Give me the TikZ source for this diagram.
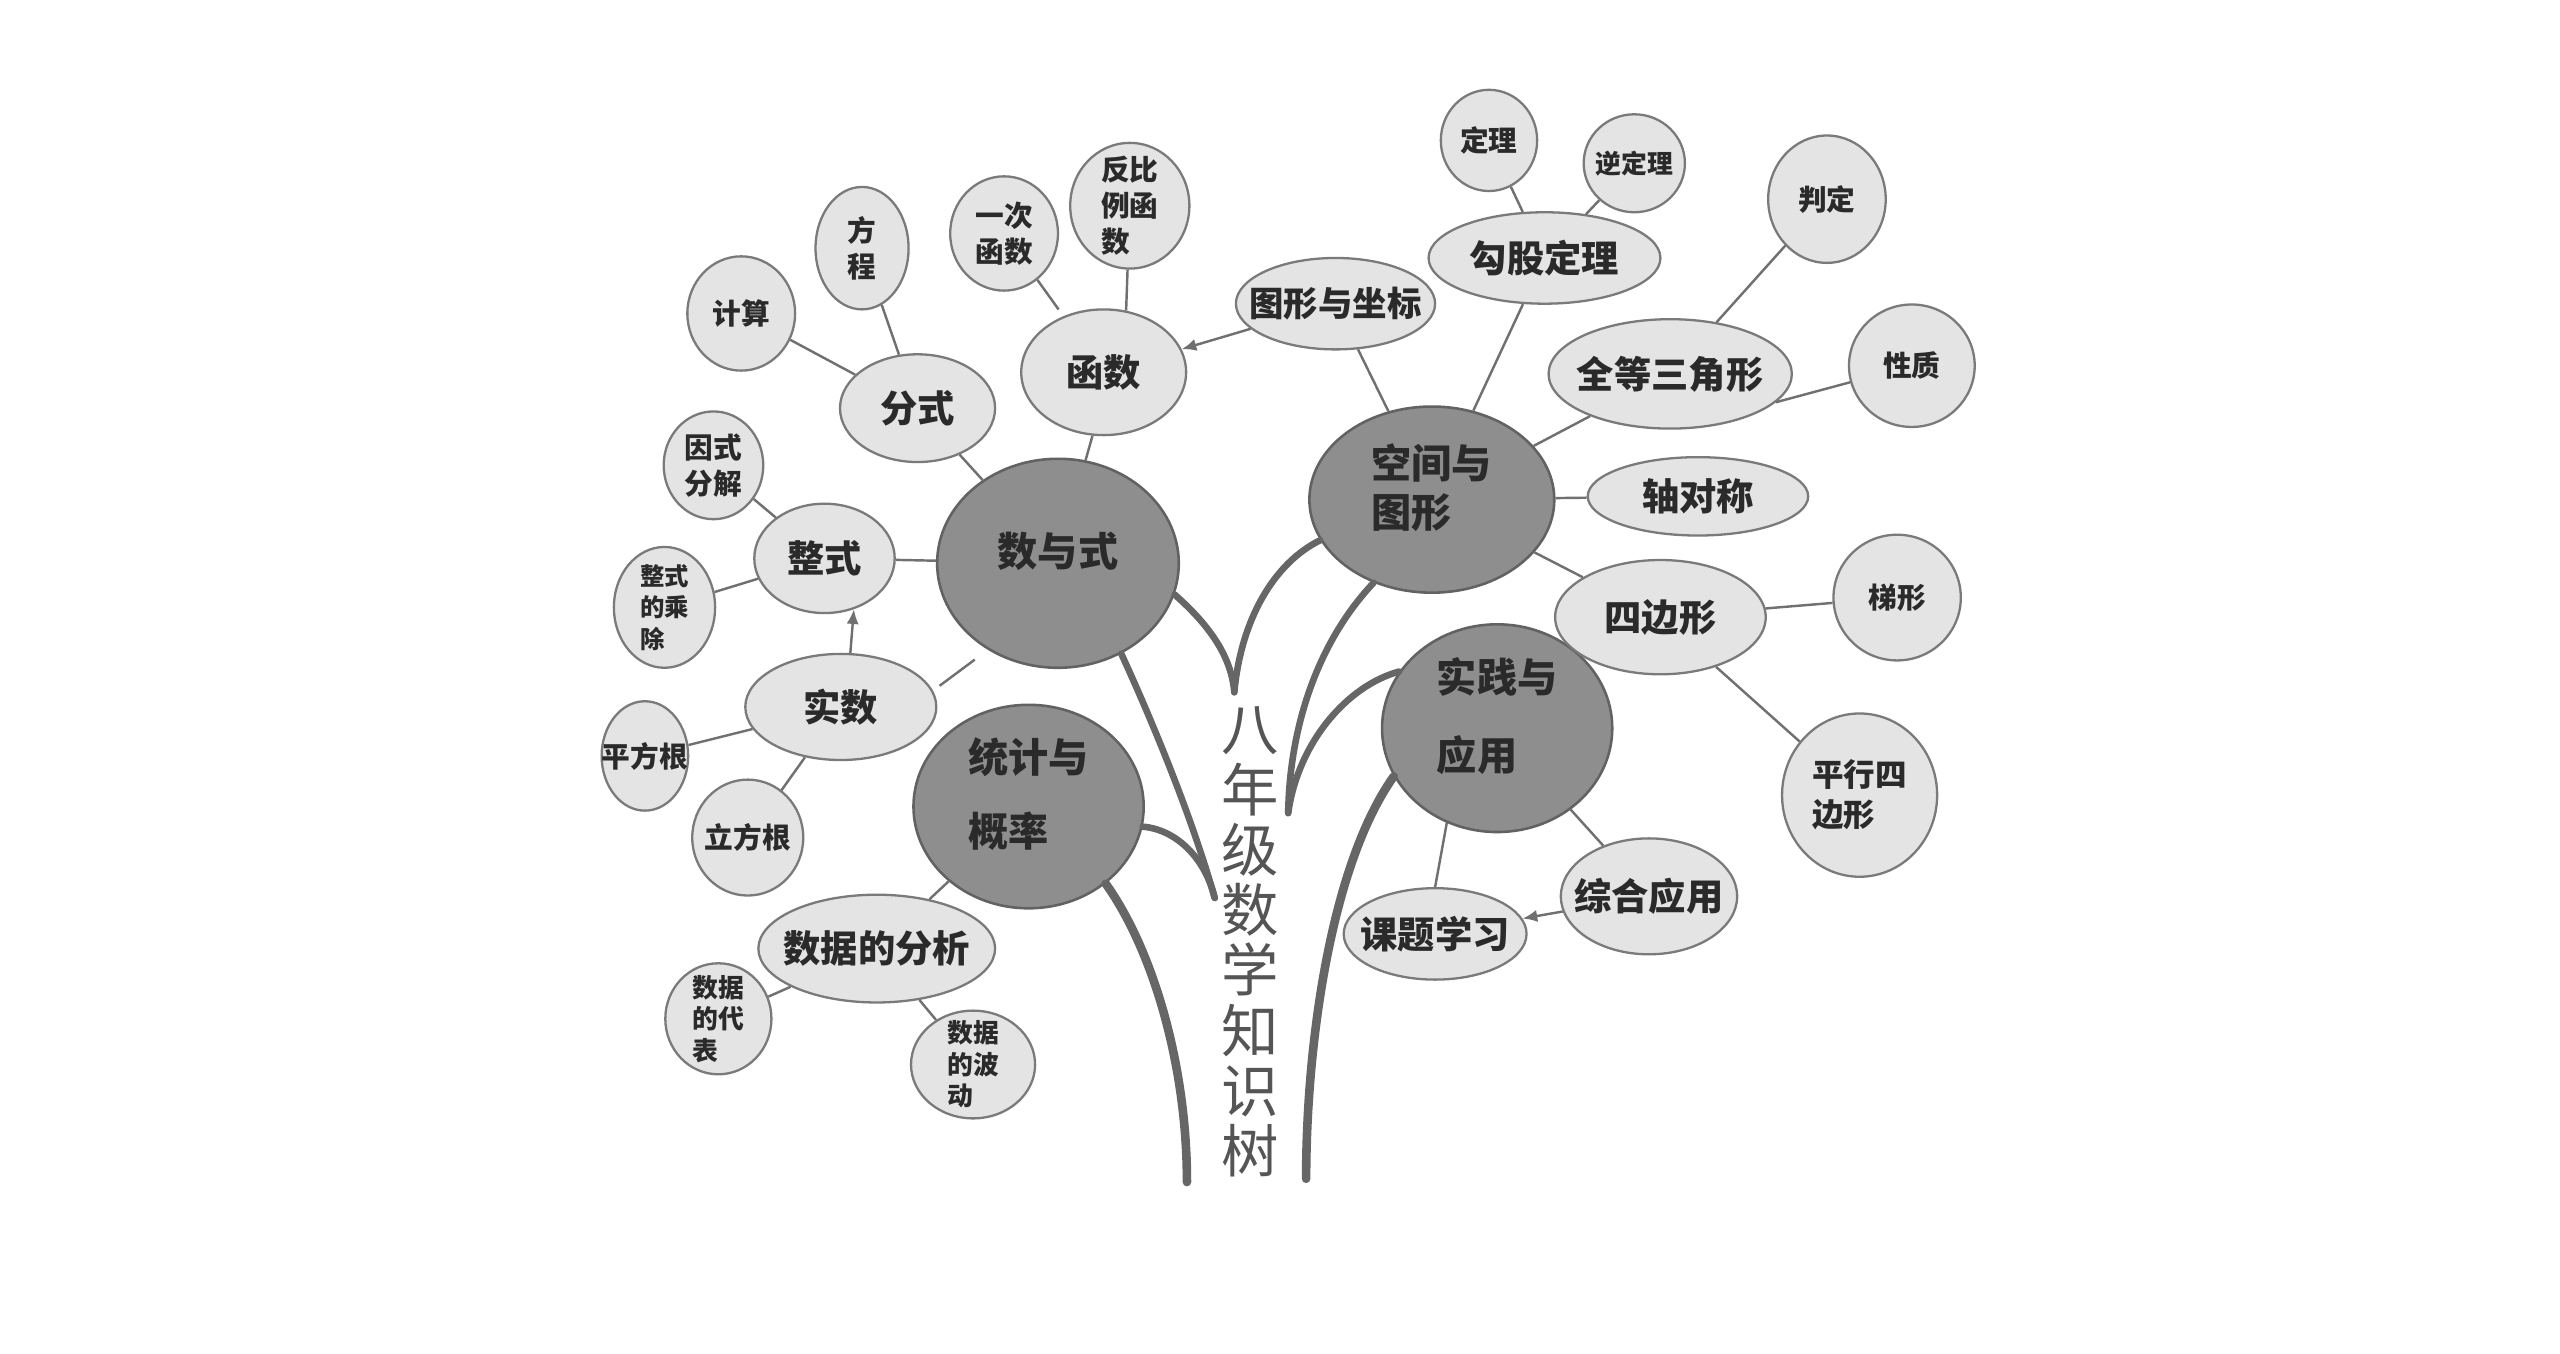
\documentclass[tikz,border=0pt]{standalone}
\usepackage{fontspec}
\setmainfont{Noto Sans CJK SC}
\usepackage{xcolor}
\usepackage{tikz}
\usetikzlibrary{shapes.geometric,arrows.meta}
\definecolor{hubfill}{HTML}{8E8E8E}
\definecolor{hubedge}{HTML}{626262}
\definecolor{twigfill}{HTML}{E4E4E4}
\definecolor{twigedge}{HTML}{7A7A7A}
\definecolor{inkgray}{HTML}{2A2A2A}
\definecolor{linkgray}{HTML}{707070}
\definecolor{trunkgray}{HTML}{666666}
\definecolor{titlegray}{HTML}{555555}
\tikzset{
  hub/.style={ellipse, draw=hubedge, line width=0.9pt, fill=hubfill, text=inkgray, align=left, inner sep=1pt, text depth=10pt, font=\fontsize{14}{17}\selectfont\bfseries},
  twig/.style={ellipse, draw=twigedge, line width=0.8pt, fill=twigfill, text=inkgray, inner sep=-6pt, font=\fontsize{13}{15}\selectfont\bfseries},
  leaf/.style={twig, align=left, font=\fontsize{10}{12.5}\selectfont\bfseries},
  link/.style={draw=linkgray, line width=0.85pt},
  arrowlink/.style={link, -{Latex[length=1.8mm, width=1.5mm]}},
  branch/.style={draw=trunkgray, line width=2.3pt, line cap=round},
  root/.style={branch, line width=3pt},
  treetitle/.style={align=center, text=titlegray, font=\fontsize{20}{21}\selectfont},
}

\begin{document}
\begin{tikzpicture}[x=0.2mm, y=-0.2mm]
  \useasboundingbox (0,0) rectangle (1568,829);
  % main branches
  \node[hub, minimum width=2.96cm, minimum height=2.56cm] (shuyushi) at (648,345) {数与式};
  \node[hub, minimum width=2.82cm, minimum height=2.28cm] (tongji) at (630,494) {统计与\\[9pt]概率};
  \node[hub, minimum width=3cm, minimum height=2.28cm] (kongjian) at (877,306) {空间与\\图形};
  \node[hub, minimum width=2.82cm, minimum height=2.4cm] (shijian) at (917,446) {实践与\\[10pt]应用};
  % second level
  \node[twig, minimum width=1.9cm, minimum height=1.32cm] (fenshi) at (562,250) {分式};
  \node[twig, minimum width=2.02cm, minimum height=1.54cm] (hanshu) at (676,228) {函数};
  \node[twig, minimum width=1.72cm, minimum height=1.34cm] (zhengshi) at (505,342) {整式};
  \node[twig, minimum width=2.34cm, minimum height=1.3cm] (shishu) at (515,433) {实数};
  \node[twig, minimum width=2.9cm, minimum height=1.32cm] (fenxi) at (537,581) {数据的分析};
  \node[twig, minimum width=2.44cm, minimum height=1.12cm, font=\fontsize{12}{14}\selectfont\bfseries] (zuobiao) at (818,186) {图形与坐标};
  \node[twig, minimum width=2.84cm, minimum height=1.12cm] (gougu) at (946,158) {勾股定理};
  \node[twig, minimum width=2.98cm, minimum height=1.34cm] (quandeng) at (1023,229) {全等三角形};
  \node[twig, minimum width=2.7cm, minimum height=0.96cm] (zhoudui) at (1040,304) {轴对称};
  \node[twig, minimum width=2.58cm, minimum height=1.4cm] (sibian) at (1017,378) {四边形};
  \node[twig, minimum width=2.16cm, minimum height=1.42cm] (zonghe) at (1010,549) {综合应用};
  \node[twig, minimum width=2.24cm, minimum height=1.12cm] (keti) at (879,572) {课题学习};
  % leaves
  \node[leaf, minimum width=1.32cm, minimum height=1.4cm] (jisuan) at (454,192) {计算};
  \node[leaf, minimum width=1.14cm, minimum height=1.5cm] (fangcheng) at (528,152) {方\\程};
  \node[leaf, minimum width=1.32cm, minimum height=1.4cm] (yici) at (615,143) {一次\\函数};
  \node[leaf, minimum width=1.46cm, minimum height=1.54cm] (fanbili) at (692,126) {反比\\例函\\数};
  \node[leaf, minimum width=1.22cm, minimum height=1.32cm] (yinshi) at (437,285) {因式\\分解};
  \node[leaf, minimum width=1.24cm, minimum height=1.48cm, font=\fontsize{8.5}{11}\selectfont\bfseries] (chengchu) at (407,372) {整式\\的乘\\除};
  \node[leaf, minimum width=1.06cm, minimum height=1.34cm] (pingfang) at (395,463) {平方根};
  \node[leaf, minimum width=1.36cm, minimum height=1.42cm] (lifang) at (458,513) {立方根};
  \node[leaf, minimum width=1.3cm, minimum height=1.36cm, font=\fontsize{9}{11}\selectfont\bfseries] (daibiao) at (440,624) {数据\\的代\\表};
  \node[leaf, minimum width=1.52cm, minimum height=1.32cm, font=\fontsize{9}{11}\selectfont\bfseries] (bodong) at (596,652) {数据\\的波\\动};
  \node[leaf, minimum width=1.18cm, minimum height=1.24cm] (dingli) at (912,86) {定理};
  \node[leaf, minimum width=1.24cm, minimum height=1.2cm, font=\fontsize{9}{11}\selectfont\bfseries] (niding) at (1001,100) {逆定理};
  \node[leaf, minimum width=1.44cm, minimum height=1.56cm] (panding) at (1119,122) {判定};
  \node[leaf, minimum width=1.54cm, minimum height=1.5cm] (xingzhi) at (1171,224) {性质};
  \node[leaf, minimum width=1.56cm, minimum height=1.54cm] (tixing) at (1162,366) {梯形};
  \node[leaf, minimum width=1.9cm, minimum height=2cm, font=\fontsize{11}{14}\selectfont\bfseries] (pingxing) at (1139,487) {平行四\\边形};
  % title
  \node[treetitle] (title) at (766,577) {八\\年\\级\\数\\学\\知\\识\\树};
  % links shuyushi
  \foreach \t in {fenshi,zhengshi} \draw[link] (shuyushi)--(\t);
  \draw[link] (hanshu.260)--(shuyushi.75);
  \draw[link, shorten <=1mm, shorten >=2mm] (shishu.10)--(shuyushi.231);
  \foreach \t in {jisuan,fangcheng} \draw[link] (fenshi)--(\t);
  \draw[link, shorten >=1mm] (yici)--(hanshu);
  \draw[link] (fanbili)--(hanshu.70);
  \draw[arrowlink] (zuobiao)--(hanshu);
  \foreach \t in {yinshi,chengchu} \draw[link] (zhengshi)--(\t);
  \draw[arrowlink] (shishu.80)--(zhengshi.-60);
  \foreach \t in {pingfang,lifang} \draw[link] (shishu)--(\t);
  % links tongji
  \draw[link] (tongji)--(fenxi);
  \foreach \t in {daibiao,bodong} \draw[link] (fenxi)--(\t);
  % links kongjian
  \foreach \t in {zuobiao,gougu,quandeng,zhoudui,sibian} \draw[link] (kongjian)--(\t);
  \foreach \t in {dingli,niding} \draw[link] (gougu)--(\t);
  \draw[link] (quandeng)--(panding);
  \draw[link] (quandeng.-15)--(xingzhi.195);
  \foreach \t in {tixing,pingxing} \draw[link] (sibian)--(\t);
  % links shijian
  \draw[link] (shijian.-118)--(keti.north);
  \draw[link] (shijian)--(zonghe);
  \draw[arrowlink] (zonghe)--(keti);
  % trunk
  \coordinate (jtop) at (756,424);
  \coordinate (jmid) at (744,550);
  \coordinate (jright) at (789,498);
  \coordinate (rootl) at (727,724);
  \coordinate (rootr) at (800,722);
  \draw[branch] (shuyushi.-15) .. controls (735,378) and (754,398) .. (jtop);
  \draw[branch] (kongjian.200) .. controls (780,345) and (760,380) .. (jtop);
  \draw[branch] (shuyushi.-55) .. controls (705,440) and (730,500) .. (jmid);
  \draw[branch] (tongji.-10) .. controls (720,508) and (738,525) .. (jmid);
  \draw[branch] (kongjian.-125) .. controls (810,390) and (790,440) .. (jright);
  \draw[branch] (shijian.150) .. controls (825,420) and (795,455) .. (jright);
  \draw[root] (tongji.-45) .. controls (705,580) and (727,650) .. (rootl);
  \draw[root] (shijian.205) .. controls (815,530) and (800,640) .. (rootr);
\end{tikzpicture}
\end{document}
